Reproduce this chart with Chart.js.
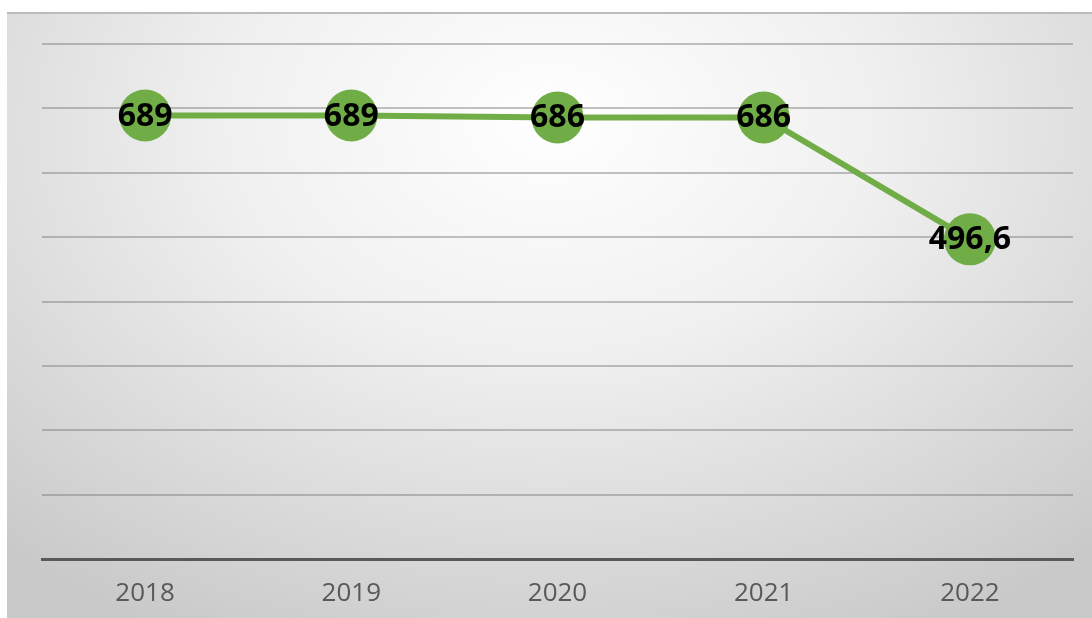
<!DOCTYPE html>
<html>
<head>
<meta charset="utf-8">
<script src="https://cdn.jsdelivr.net/npm/chart.js@4"></script>
<style>
  html, body { margin: 0; padding: 0; background: #fff; }
  #box {
    position: absolute; left: 7px; top: 12px; width: 1085px; height: 606px;
    border-top: 2px solid #bcbcbc; box-sizing: border-box;
    background: radial-gradient(ellipse 75% 95% at 50% 18%, #ffffff 0%, #f0f0f0 40%, #d6d6d6 80%, #c9c9c9 100%);
  }
  #chart { display: block; }
</style>
</head>
<body>
<div id="box"><canvas id="chart" width="1085" height="604"></canvas></div>
<script>
// ---------- Data ----------
const years = ["2018", "2019", "2020", "2021", "2022"];
const values = [689, 689, 686, 686, 496.6];
const yMin = 0, yMax = 800, yStep = 100;

const GREEN = "#70ad47";

// value labels drawn centered on each marker
const valueLabels = {
  id: "valueLabels",
  afterDatasetsDraw(chart) {
    const ctx = chart.ctx;
    const meta = chart.getDatasetMeta(0);
    ctx.save();
    ctx.font = "bold 32px 'Open Sans', sans-serif";
    ctx.fillStyle = "#000";
    ctx.textAlign = "center";
    ctx.textBaseline = "middle";
    meta.data.forEach((pt, i) => {
      const txt = String(values[i]).replace(".", ",");
      ctx.fillText(txt, pt.x, pt.y + 1);
    });
    ctx.restore();
  },
};

new Chart(document.getElementById("chart"), {
  type: "line",
  data: {
    labels: years,
    datasets: [{
      data: values,
      borderColor: GREEN,
      borderWidth: 6,
      backgroundColor: GREEN,
      pointBackgroundColor: GREEN,
      pointBorderColor: GREEN,
      pointRadius: 23,
      pointHoverRadius: 23,
      tension: 0,
      clip: false,
    }],
  },
  options: {
    responsive: false,
    animation: false,
    events: [],
    layout: { autoPadding: false, padding: { left: 35, right: 19, top: 30, bottom: 0 } },
    plugins: { legend: { display: false }, tooltip: { enabled: false } },
    scales: {
      x: {
        offset: true,
        grid: { display: false, drawTicks: false },
        border: { display: true, color: "#595959", width: 3 },
        ticks: { color: "#595959", padding: 19, font: { family: "'Open Sans', sans-serif", size: 26 } },
        afterFit: (s) => { s.height = 59; },
      },
      y: {
        min: yMin, max: yMax,
        ticks: { display: false, stepSize: yStep },
        grid: { color: "rgba(120,120,120,0.45)", lineWidth: 2, drawTicks: false },
        border: { display: false },
        afterFit: (s) => { s.width = 0; },
      },
    },
  },
  plugins: [valueLabels],
});
</script>
</body>
</html>
